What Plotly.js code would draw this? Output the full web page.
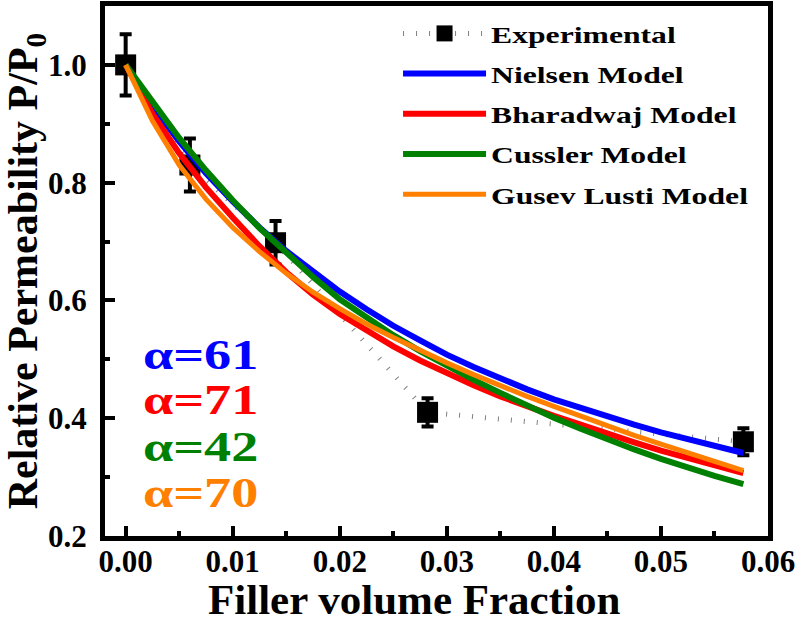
<!DOCTYPE html>
<html>
<head>
<meta charset="utf-8">
<script src="https://cdn.plot.ly/plotly-3.0.1.min.js"></script>
<style>
html,body{margin:0;padding:0;background:#fff;}
#chart{width:802px;height:624px;}
#chart .legend, #chart .legend *{clip-path:none !important;}
#chart .legendtext{transform-box:fill-box;transform-origin:0% 50%;transform:scaleX(1.32);}
#chart .annotation-text{transform-box:fill-box;transform-origin:0% 50%;}
#chart .alpha-lbl .annotation-text{transform:scaleX(1.29);}
</style>
</head>
<body>
<div id="chart"></div>
<script>
// Experimental data
const expX = [0, 0.006, 0.014, 0.0282, 0.0577];
const expY = [1.0, 0.83, 0.698, 0.41, 0.36];
const expErr = [0.052, 0.045, 0.037, 0.024, 0.023];

// Model curves
const modelX = [0, 0.0025, 0.005, 0.0075, 0.01, 0.0125, 0.015, 0.0175, 0.02, 0.0225, 0.025, 0.0275,
                0.03, 0.0325, 0.035, 0.0375, 0.04, 0.0425, 0.045, 0.0475, 0.05, 0.0525, 0.055, 0.0577];
const nielsenY   = [1.0, 0.930, 0.870, 0.816, 0.768, 0.724, 0.684, 0.648, 0.615, 0.585, 0.557, 0.532,
                    0.508, 0.487, 0.467, 0.449, 0.432, 0.417, 0.403, 0.389, 0.376, 0.364, 0.353, 0.341];
const bharadwajY = [1.0, 0.917, 0.850, 0.792, 0.741, 0.692, 0.648, 0.610, 0.577, 0.548, 0.522, 0.498,
                    0.476, 0.456, 0.437, 0.420, 0.404, 0.389, 0.373, 0.359, 0.345, 0.332, 0.320, 0.307];
const cusslerY   = [1.0, 0.936, 0.876, 0.821, 0.770, 0.723, 0.680, 0.640, 0.602, 0.570, 0.541, 0.514,
                    0.489, 0.465, 0.443, 0.421, 0.401, 0.382, 0.364, 0.347, 0.331, 0.316, 0.302, 0.288];
const gusevY     = [1.0, 0.905, 0.830, 0.772, 0.724, 0.683, 0.646, 0.614, 0.586, 0.560, 0.537, 0.515,
                    0.494, 0.474, 0.455, 0.437, 0.420, 0.403, 0.387, 0.371, 0.356, 0.341, 0.327, 0.311];

const names = ['Experimental', 'Nielsen Model', 'Bharadwaj Model', 'Cussler Model', 'Gusev Lusti Model'];
const colors = ['#000000', '#0000FF', '#FF0000', '#008000', '#FF8000'];
const alphaLabels = ['α=61', 'α=71', 'α=42', 'α=70'];
const xTitle = 'Filler volume Fraction';
const yTitle = 'Relative Permeability P/P<sub>0</sub>';

const fontFam = 'Liberation Serif';

const traces = [
  {
    x: expX, y: expY, name: names[0], type: 'scatter', mode: 'lines+markers',
    line: {color: '#808080', width: 5, dash: '1px,12px'},
    marker: {symbol: 'square', size: 21, color: colors[0]},
    error_y: {type: 'data', array: expErr, visible: true, color: '#000', thickness: 4, width: 6},
    legendgroup: 'g0'
  },
  {x: modelX, y: nielsenY, name: names[1], type: 'scatter', mode: 'lines', line: {color: colors[1], width: 6}, legendgroup: 'g1'},
  {x: modelX, y: bharadwajY, name: names[2], type: 'scatter', mode: 'lines', line: {color: colors[2], width: 6}, legendgroup: 'g2'},
  {x: modelX, y: cusslerY, name: names[3], type: 'scatter', mode: 'lines', line: {color: colors[3], width: 6}, legendgroup: 'g3'},
  {x: modelX, y: gusevY, name: names[4], type: 'scatter', mode: 'lines', line: {color: colors[4], width: 5}, legendgroup: 'g4'}
];

const alphaY = [0.3415, 0.2566, 0.168, 0.081];
const annotations = alphaLabels.map((t, i) => ({
  text: '<b>' + t + '</b>', xref: 'paper', yref: 'paper', x: 0.055, y: alphaY[i],
  xanchor: 'left', yanchor: 'middle', showarrow: false, name: 'alpha',
  font: {family: fontFam, size: 42, color: colors[i + 1]}
}));
// x axis title, placed as in the reference (slightly left of plot centre)
annotations.push({
  text: '<b>' + xTitle + '</b>', xref: 'paper', yref: 'paper', x: 0.466, y: -0.072,
  xanchor: 'center', yanchor: 'top', showarrow: false,
  font: {family: fontFam, size: 43, color: '#000'}
});

const layout = {
  width: 802, height: 624,
  margin: {l: 105, r: 34, t: 6, b: 88},
  paper_bgcolor: '#fff', plot_bgcolor: '#fff',
  font: {family: fontFam, color: '#000', weight: 'bold'},
  showlegend: true,
  legend: {
    x: 0.442, y: 0.99, xanchor: 'left', yanchor: 'top',
    bgcolor: 'rgba(0,0,0,0)', borderwidth: 0,
    font: {family: fontFam, size: 24, color: '#000', weight: 'bold'},
    traceorder: 'grouped', tracegroupgap: 6, itemwidth: 83
  },
  xaxis: {
    range: [-0.00193, 0.06], dtick: 0.01, tick0: 0, tickformat: '.2f',
    showgrid: false, zeroline: false,
    showline: true, linewidth: 5, linecolor: '#000', mirror: true,
    ticks: 'inside', ticklen: 10, tickwidth: 4, tickcolor: '#000',
    minor: {ticks: 'inside', ticklen: 5, tickwidth: 4, tickcolor: '#000', dtick: 0.005, tick0: 0, showgrid: false},
    tickfont: {family: fontFam, size: 31, weight: 'bold'},
    ticklabelstandoff: -6
  },
  yaxis: {
    range: [0.2, 1.1], dtick: 0.2, tick0: 0.2, tickformat: '.1f',
    showgrid: false, zeroline: false,
    showline: true, linewidth: 5, linecolor: '#000', mirror: true,
    ticks: 'inside', ticklen: 10, tickwidth: 4, tickcolor: '#000',
    minor: {ticks: 'inside', ticklen: 5, tickwidth: 4, tickcolor: '#000', dtick: 0.1, tick0: 0.2, showgrid: false},
    tickfont: {family: fontFam, size: 31, weight: 'bold'},
    ticklabelstandoff: 7,
    title: {text: yTitle, font: {family: fontFam, size: 42, weight: 'bold'}, standoff: 2}
  },
  annotations: annotations
};

Plotly.newPlot('chart', traces, layout, {displayModeBar: false, staticPlot: true}).then(function (gd) {
  // mark the alpha labels so only they get the horizontal stretch
  const anns = gd.querySelectorAll('.annotation');
  anns.forEach(function (a, i) { if (i < alphaLabels.length) a.classList.add('alpha-lbl'); });
});
</script>
</body>
</html>
